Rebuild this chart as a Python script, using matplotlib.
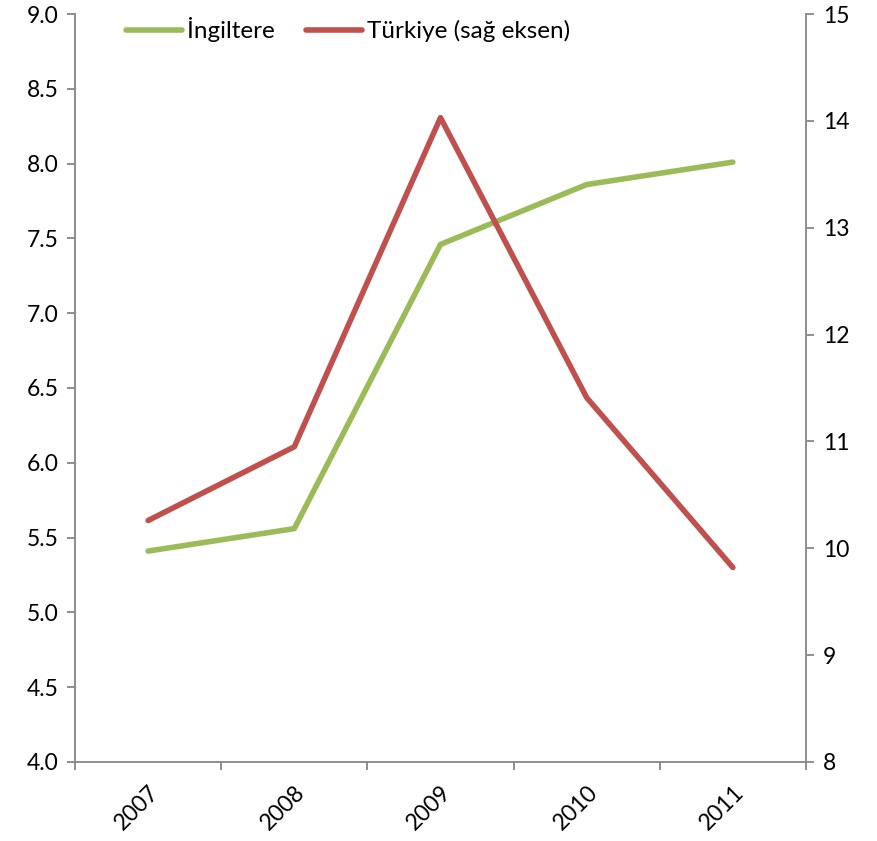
import numpy as np
import matplotlib.pyplot as plt

years = ['2007', '2008', '2009', '2010', '2011']
ingiltere = [5.41, 5.56, 7.46, 7.86, 8.01]
turkiye = [10.26, 10.95, 14.03, 11.41, 9.82]

plt.rcParams['font.family'] = ['Lato', 'DejaVu Sans']
grey = '#868686'

fig = plt.figure(figsize=(8.77, 8.41), dpi=100)
ax = fig.add_axes([75 / 877, 1 - 762 / 841, (806 - 75) / 877, (762 - 14) / 841])
ax2 = ax.twinx()

x = np.arange(len(years))
l1, = ax.plot(x, ingiltere, color='#9BBB59', lw=4.0, solid_capstyle='round', label='İngiltere')
l2, = ax2.plot(x, turkiye, color='#C0504D', lw=4.0, solid_capstyle='round', label='Türkiye (sağ eksen)')

ax.set_xlim(-0.5, len(years) - 0.5)
ax.set_ylim(4.0, 9.0)
ax.set_yticks(np.arange(4.0, 9.01, 0.5))
ax.set_yticklabels([f'{v:.1f}' for v in np.arange(4.0, 9.01, 0.5)])
ax2.set_ylim(8, 15)
ax2.set_yticks(range(8, 16))

# category boundaries get the tick marks, labels sit between them
ax.set_xticks(np.arange(-0.5, len(years), 1.0))
ax.set_xticklabels([])
ax.set_xticks(x, minor=True)
ax.set_xticklabels(years, minor=True, rotation=45, ha='right', rotation_mode='anchor')
ax.tick_params(axis='x', which='minor', length=0, pad=14, labelsize=16.5)
ax.tick_params(axis='x', which='major', length=6, color=grey, width=1.3)
ax.tick_params(axis='y', length=6, color=grey, width=1.3, labelsize=16.5, pad=6)
ax2.tick_params(axis='y', length=6, color=grey, width=1.3, labelsize=16.5, pad=6)

for a in (ax, ax2):
    for s in a.spines.values():
        s.set_visible(False)
ax.spines['left'].set_visible(True)
ax.spines['bottom'].set_visible(True)
ax2.spines['right'].set_visible(True)
for s in (ax.spines['left'], ax.spines['bottom'], ax2.spines['right']):
    s.set_color(grey)
    s.set_linewidth(1.3)

ax.legend(handles=[l1, l2], loc='upper left', bbox_to_anchor=(0.04, 1.025), ncol=2,
          frameon=False, fontsize=17.5, handlelength=2.3, handletextpad=0.2, columnspacing=1.3)

fig.savefig('out.png', dpi=100)
